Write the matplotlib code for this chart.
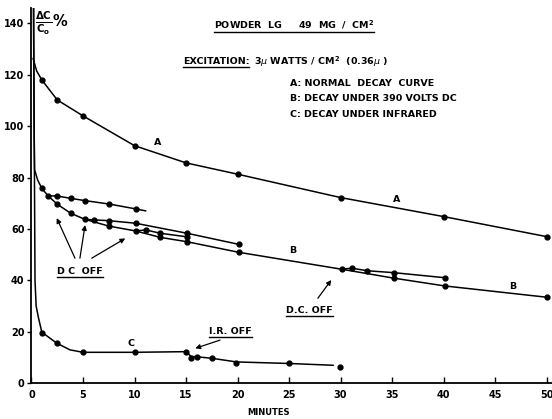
import matplotlib
matplotlib.use("Agg")
import matplotlib.pyplot as plt
from matplotlib.lines import Line2D

# ---------------- data ----------------
# Curve A: normal decay
a_line_t = [0.15, 0.5, 1.0, 2.5, 5.0, 10.0, 15.0, 20.0, 30.0, 40.0, 50.0]
a_line_v = [126.4, 121.5, 118.0, 110.2, 104.0, 92.4, 85.7, 81.3, 72.2, 64.8, 57.0]
a_pts_t = [1.0, 2.5, 5.0, 10.0, 15.0, 20.0, 30.0, 40.0, 50.0]
a_pts_v = [118.0, 110.2, 104.0, 92.4, 85.7, 81.3, 72.2, 64.8, 57.0]

# Curve B: decay under 390 volts DC (main curve)
b_line_t = [0.2, 0.25, 0.3, 0.6, 1.0, 1.6, 2.5, 3.8, 5.2, 7.5, 10.1, 12.5, 15.1, 20.1, 30.1, 35.2, 40.1, 50.0]
b_line_v = [146, 100, 83, 79, 75.8, 72.9, 69.6, 66.1, 63.7, 61.1, 59.2, 56.7, 55.0, 50.9, 44.3, 40.8, 37.8, 33.4]
b_pts_t = [1.0, 1.6, 2.5, 3.8, 5.2, 7.5, 10.1, 12.5, 15.1, 20.1, 30.1, 35.2, 40.1, 50.0]
b_pts_v = [75.8, 72.9, 69.6, 66.1, 63.7, 61.1, 59.2, 56.7, 55.0, 50.9, 44.3, 40.8, 37.8, 33.4]

# DC switched off branches
br1_t = [1.6, 2.5, 3.8, 5.2, 7.5, 10.1, 11.1]
br1_v = [72.9, 72.8, 71.9, 71.0, 69.7, 67.8, 67.0]
br1_pts_t = [2.5, 3.8, 5.2, 7.5, 10.1]
br1_pts_v = [72.8, 71.9, 71.0, 69.7, 67.8]

br2_t = [5.2, 6.1, 7.5, 10.1, 15.1, 20.1]
br2_v = [63.7, 63.5, 63.2, 62.2, 58.3, 54.0]
br2_pts_t = [6.1, 7.5, 10.1, 15.1, 20.1]
br2_pts_v = [63.5, 63.2, 62.2, 58.3, 54.0]

br3_t = [10.1, 11.1, 12.5, 15.1]
br3_v = [59.2, 59.6, 58.3, 56.9]
br3_pts_t = [11.1, 12.5, 15.1]
br3_pts_v = [59.6, 58.3, 56.9]

br4_t = [30.1, 31.1, 32.6, 35.2, 40.1]
br4_v = [44.3, 44.7, 43.7, 42.95, 41.0]
br4_pts_t = [31.1, 32.6, 35.2, 40.1]
br4_pts_v = [44.7, 43.7, 42.95, 41.0]

# Curve C: decay under infrared
c_line_t = [0.2, 0.26, 0.3, 0.34, 0.45, 0.66, 1.0, 2.45, 3.74, 5.0, 10.0, 15.0, 15.5, 16.1, 17.55, 19.9, 25.0, 29.3]
c_line_v = [146, 100, 70, 40, 30, 25.7, 19.8, 15.5, 12.9, 11.95, 11.95, 12.2, 10.3, 10.2, 9.6, 8.2, 7.6, 6.9]
c_pts_t = [1.0, 2.45, 5.0, 10.0, 15.0, 15.45, 16.1, 17.55, 19.9, 25.0, 29.95]
c_pts_v = [19.4, 15.5, 11.95, 11.95, 12.2, 9.85, 10.2, 9.6, 7.9, 7.7, 6.1]

x_ticks = [0, 5, 10, 15, 20, 25, 30, 35, 40, 45, 50]
y_ticks = [0, 20, 40, 60, 80, 100, 120, 140]

# ---------------- figure ----------------
W, H = 552, 419
fig = plt.figure(figsize=(W / 100, H / 100), dpi=100)
fig.patch.set_facecolor("white")
ax = fig.add_axes([31.5 / W, (H - 383) / H, (W - 31.5) / W, (383 - 8) / H])
ax.set_xlim(0, 50.53)
ax.set_ylim(0, 146)
for s in ("top", "right"):
    ax.spines[s].set_visible(False)
for s in ("left", "bottom"):
    ax.spines[s].set_linewidth(1.3)
    ax.spines[s].set_color("black")

FONT = "DejaVu Sans"
ax.set_xticks(x_ticks)
ax.set_yticks(y_ticks)
ax.set_xticklabels([str(v) for v in x_ticks], fontsize=7, fontweight="bold", family=FONT)
ax.set_yticklabels([str(v) for v in y_ticks], fontsize=7, fontweight="bold", family=FONT)
ax.tick_params(axis="x", direction="in", length=4, width=1, pad=5)
ax.tick_params(axis="y", direction="out", length=3, width=1, pad=2)

lw = 1.1
ms = 3.5
def curve(t, v, **kw):
    ax.plot(t, v, color="black", lw=lw, solid_capstyle="round", solid_joinstyle="round", clip_on=True, **kw)
def dots(t, v):
    ax.plot(t, v, "o", color="black", ms=ms, clip_on=False)

curve(a_line_t, a_line_v); dots(a_pts_t, a_pts_v)
curve(b_line_t, b_line_v); dots(b_pts_t, b_pts_v)
curve(br1_t, br1_v); dots(br1_pts_t, br1_pts_v)
curve(br2_t, br2_v); dots(br2_pts_t, br2_pts_v)
curve(br3_t, br3_v); dots(br3_pts_t, br3_pts_v)
curve(br4_t, br4_v); dots(br4_pts_t, br4_pts_v)
curve(c_line_t, c_line_v); dots(c_pts_t, c_pts_v)

tk = dict(fontsize=6.8, fontweight="bold", family=FONT, color="black")
underlined = []

t1 = ax.text(25.5, 139.4, "POWDER  LG     49  MG  /  CM$^{\\mathbf{2}}$", ha="center", va="center", **tk)
underlined.append(t1)
t2 = ax.text(14.7, 125.0, "EXCITATION:", ha="left", va="center", **tk)
underlined.append(t2)
ax.text(21.6, 125.0, "3$\\mu$ WATTS / CM$^{\\mathbf{2}}$  (0.36$\\mu$ )", ha="left", va="center", **tk)
ax.text(25.1, 116.8, "A: NORMAL  DECAY  CURVE", ha="left", va="center", **tk)
ax.text(25.1, 110.6, "B: DECAY UNDER 390 VOLTS DC", ha="left", va="center", **tk)
ax.text(25.1, 104.4, "C: DECAY UNDER INFRARED", ha="left", va="center", **tk)

ax.text(12.2, 93.5, "A", ha="center", va="center", **tk)
ax.text(35.4, 71.3, "A", ha="center", va="center", **tk)
ax.text(25.4, 51.4, "B", ha="center", va="center", **tk)
ax.text(46.7, 37.5, "B", ha="center", va="center", **tk)
ax.text(9.66, 15.5, "C", ha="center", va="center", **tk)

d1 = ax.text(4.7, 43.3, "D C  OFF", ha="center", va="center", **tk)
underlined.append(d1)
d2 = ax.text(27.0, 28.4, "D.C. OFF", ha="center", va="center", **tk)
underlined.append(d2)
ir = ax.text(19.3, 20.0, "I.R. OFF", ha="center", va="center", **tk)
underlined.append(ir)

ap = dict(arrowstyle="-|>", lw=0.9, color="black", mutation_scale=7, shrinkA=0, shrinkB=0)
ax.annotate("", xy=(2.45, 64.2), xytext=(4.22, 48.6), arrowprops=ap)
ax.annotate("", xy=(5.2, 61.5), xytext=(4.7, 48.6), arrowprops=ap)
ax.annotate("", xy=(9.1, 56.3), xytext=(5.85, 48.6), arrowprops=ap)
ax.annotate("", xy=(29.1, 40.1), xytext=(27.8, 33.0), arrowprops=ap)
ax.annotate("", xy=(15.9, 13.5), xytext=(18.3, 16.7), arrowprops=ap)

fig.text(269 / W, (H - 412) / H, "MINUTES", ha="center", va="center",
         fontsize=6, fontweight="bold", family=FONT)
fig.text(35 / W, (H - 23) / H, r"$\frac{\mathbf{\Delta C}}{\mathbf{C_o}}$" + "%",
         ha="left", va="center", fontsize=10.5, fontweight="bold", family=FONT)

# underline labels
fig.canvas.draw()
r = fig.canvas.get_renderer()
for t in underlined:
    bb = t.get_window_extent(renderer=r)
    y = bb.y0 - 1.0
    fig.add_artist(Line2D([bb.x0 / W, bb.x1 / W], [y / H, y / H], color="black", lw=1.0,
                          transform=fig.transFigure))

fig.savefig("out.png", dpi=100, facecolor="white")
